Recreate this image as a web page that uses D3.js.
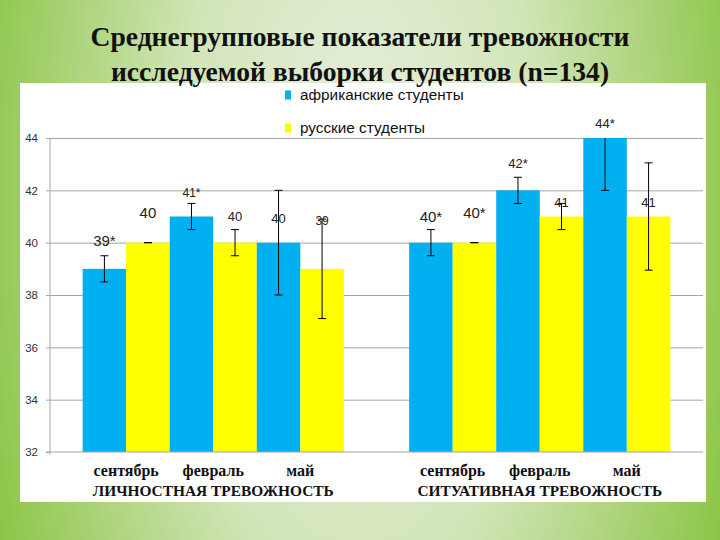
<!DOCTYPE html>
<html><head><meta charset="utf-8">
<script src="https://cdn.jsdelivr.net/npm/d3@7"></script>
<style>html,body{margin:0;padding:0;background:#fff}svg{display:block}</style>
</head><body>
<svg id="c" width="720" height="540"></svg>
<script>
// ---- data ----
const titleLines = ["Среднегрупповые показатели тревожности", "исследуемой  выборки студентов (n=134)"];
const groups = ["ЛИЧНОСТНАЯ ТРЕВОЖНОСТЬ", "СИТУАТИВНАЯ ТРЕВОЖНОСТЬ"];
const months = ["сентябрь", "февраль", "май"];
const seriesNames = ["африканские студенты", "русские студенты"];
const africanValues = [[39, 41, 40], [40, 42, 44]];
const russianValues = [[40, 40, 39], [40, 41, 41]];
const africanErrors = [[0.5, 0.5, 2], [0.5, 0.5, 2]];
const russianErrors = [[0, 0.5, 1.9], [0, 0.5, 2.05]];
const africanLabels = [["39*", "41*", "40"], ["40*", "42*", "44*"]];
const russianLabels = [["40", "40", "39"], ["40*", "41", "41"]];
const yTicks = [32, 34, 36, 38, 40, 42, 44];

// ---- layout (label nudges in px above bar top, font sizes) ----
const labelLift = {
  "африканские студенты": [[28, 24, 24], [26, 27, 15]],
  "русские студенты": [[30, 26, 48], [30, 14, 14]]
};
const labelSize = {
  "африканские студенты": [[15, 12, 13], [15, 13, 13]],
  "русские студенты": [[15, 13, 12], [15, 13, 13]]
};
const colors = {"африканские студенты": "#00b0f0", "русские студенты": "#ffff00"};

const rows = [];
groups.forEach((g, gi) => months.forEach((m, mi) => {
  rows.push({g, gi, m, mi, s: seriesNames[0], v: africanValues[gi][mi], e: africanErrors[gi][mi], lab: africanLabels[gi][mi]});
  rows.push({g, gi, m, mi, s: seriesNames[1], v: russianValues[gi][mi], e: russianErrors[gi][mi], lab: russianLabels[gi][mi]});
}));

const svg = d3.select("#c");
const defs = svg.append("defs");
const rg = defs.append("radialGradient").attr("id", "bg")
  .attr("gradientUnits", "userSpaceOnUse")
  .attr("cx", 360).attr("cy", 200).attr("r", 400)
  .attr("gradientTransform", "translate(360,200) scale(1,2.2) translate(-360,-200)");
rg.append("stop").attr("offset", 0).attr("stop-color", "#e8efdf");
rg.append("stop").attr("offset", 0.45).attr("stop-color", "#d2e5b8");
rg.append("stop").attr("offset", 1).attr("stop-color", "#88c442");
svg.append("rect").attr("width", 720).attr("height", 540).attr("fill", "url(#bg)");

// white panel
svg.append("rect").attr("x", 20).attr("y", 83).attr("width", 686).attr("height", 419).attr("fill", "#fff");

// title
svg.append("g").selectAll("text").data(titleLines).join("text")
  .attr("x", 360).attr("y", (d, i) => 46 + i * 35)
  .attr("text-anchor", "middle")
  .attr("font-family", "Liberation Serif, serif").attr("font-weight", "bold")
  .attr("font-size", 27.6).attr("fill", "#111")
  .text(d => d);

const plotL = 50, plotR = 703;
const y = d3.scaleLinear().domain([32, 44]).range([452, 138]);
const x0 = d3.scaleBand().domain(groups).range([plotL, plotR]).paddingInner(0.2).paddingOuter(0.1);
const x1 = d3.scaleBand().domain(months).range([0, x0.bandwidth()]);
const x2 = d3.scaleBand().domain(seriesNames).range([0, x1.bandwidth()]);
const xc = d => x0(d.g) + x1(d.m) + x2(d.s);

// gridlines
const grid = svg.append("g").attr("transform", `translate(${plotL},0)`)
  .call(d3.axisLeft(y).tickValues(yTicks.filter(t => t > 32)).tickSize(-(plotR - plotL)).tickFormat(""));
grid.select(".domain").remove();
grid.selectAll("line").attr("stroke", "#a6a6a6").attr("stroke-width", 1);

// bars
svg.append("g").selectAll("rect").data(rows).join("rect")
  .attr("x", xc).attr("width", x2.bandwidth())
  .attr("y", d => y(d.v)).attr("height", d => y(32) - y(d.v))
  .attr("fill", d => colors[d.s]);

// error bars (clipped to plot)
defs.append("clipPath").attr("id", "pc").append("rect")
  .attr("x", plotL).attr("y", y(44)).attr("width", plotR - plotL).attr("height", y(32) - y(44));
const eb = svg.append("g").attr("clip-path", "url(#pc)").selectAll("g").data(rows).join("g")
  .attr("stroke", "#000").attr("stroke-width", 1);
const cx = d => xc(d) + x2.bandwidth() / 2;
eb.append("line").attr("x1", cx).attr("x2", cx).attr("y1", d => y(d.v + d.e)).attr("y2", d => y(d.v - d.e));
eb.append("line").attr("x1", d => cx(d) - 4).attr("x2", d => cx(d) + 4).attr("y1", d => y(d.v + d.e)).attr("y2", d => y(d.v + d.e));
eb.append("line").attr("x1", d => cx(d) - 4).attr("x2", d => cx(d) + 4).attr("y1", d => y(d.v - d.e)).attr("y2", d => y(d.v - d.e));

// data labels
svg.append("g").selectAll("text").data(rows).join("text")
  .attr("x", cx)
  .attr("y", d => y(d.v) - labelLift[d.s][d.gi][d.mi])
  .attr("dy", "0.35em")
  .attr("text-anchor", "middle")
  .attr("font-family", "Liberation Sans, Arial, sans-serif")
  .attr("font-size", d => labelSize[d.s][d.gi][d.mi])
  .attr("fill", "#222")
  .text(d => d.lab);

// y axis
const ya = svg.append("g").attr("transform", `translate(${plotL},0)`)
  .call(d3.axisLeft(y).tickValues(yTicks).tickSize(4).tickPadding(8).tickSizeOuter(0));
ya.select(".domain").attr("stroke", "#a6a6a6").attr("d", `M0,${y(44)}V${y(32) + 3}`);
ya.selectAll(".tick line").attr("stroke", "#a6a6a6");
ya.selectAll("text").attr("font-family", "Liberation Sans, Arial, sans-serif").attr("font-size", 11.5).attr("fill", "#333");

// x baseline
svg.append("line").attr("x1", plotL - 4).attr("x2", plotR).attr("y1", y(32)).attr("y2", y(32)).attr("stroke", "#a6a6a6");

// month labels
const monthRows = [];
groups.forEach(g => months.forEach(m => monthRows.push({g, m})));
svg.append("g").selectAll("text").data(monthRows).join("text")
  .attr("x", d => x0(d.g) + x1(d.m) + x1.bandwidth() / 2)
  .attr("y", 476)
  .attr("text-anchor", "middle")
  .attr("font-family", "Liberation Serif, serif").attr("font-weight", "bold")
  .attr("font-size", 16).attr("fill", "#111")
  .text(d => d.m);
svg.append("g").selectAll("text").data(groups).join("text")
  .attr("x", d => x0(d) + x0.bandwidth() / 2)
  .attr("y", 496)
  .attr("text-anchor", "middle")
  .attr("font-family", "Liberation Serif, serif").attr("font-weight", "bold")
  .attr("font-size", 15.4).attr("fill", "#111")
  .text(d => d);

// legend
const lg = svg.append("g").selectAll("g").data(seriesNames).join("g")
  .attr("transform", (d, i) => `translate(285,${95 + i * 33})`);
lg.append("rect").attr("x", 0).attr("y", -4.5).attr("width", 6).attr("height", 9).attr("fill", d => colors[d]);
lg.append("text").attr("x", 15).attr("y", 0).attr("dy", "0.35em")
  .attr("font-family", "Liberation Sans, Arial, sans-serif").attr("font-size", 15.3).attr("fill", "#111")
  .text(d => d);
</script>
</body></html>
